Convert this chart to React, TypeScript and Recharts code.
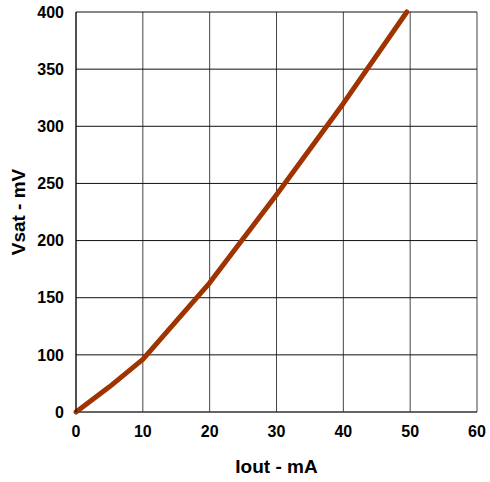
import React from 'react';
import { LineChart, Line, XAxis, YAxis, CartesianGrid, Label } from 'recharts';

// Iout (mA) and Vsat (mV)
const iout = [0, 5, 10, 20, 30, 40, 49.5];
const vsat = [0, 44, 92, 163, 240, 320, 400];

const xTicks = [0, 10, 20, 30, 40, 50, 60];
// the original axis has no 50 label: the bottom band (0-100) is drawn as tall as the 50 mV bands
const yTickLabels = ['0', '100', '150', '200', '250', '300', '350', '400'];
const yTickPos = [50, 100, 150, 200, 250, 300, 350, 400];

const toAxis = (v: number) => (v < 100 ? 50 + v / 2 : v);

const data = iout.map((x, i) => ({ iout: x, vsat: toAxis(vsat[i]) }));

const FONT = '"Liberation Sans", Arial, sans-serif';
const tickStyle = { fontSize: 16, fontWeight: 700, fill: '#000', fontFamily: FONT };

const XTitle = ({ viewBox }: any) => (
  <text
    x={viewBox.x + viewBox.width / 2}
    y={viewBox.y + 54}
    textAnchor="middle"
    dominantBaseline="central"
    style={{ fontSize: 19, fontWeight: 700, fontFamily: FONT }}
    fill="#000"
  >
    Iout - mA
  </text>
);

const YTitle = ({ viewBox }: any) => {
  const cx = 18;
  const cy = viewBox.y + viewBox.height / 2;
  return (
    <text
      x={cx}
      y={cy}
      transform={`rotate(-90, ${cx}, ${cy})`}
      textAnchor="middle"
      dominantBaseline="central"
      style={{ fontSize: 19, fontWeight: 700, fontFamily: FONT }}
      fill="#000"
    >
      Vsat - mV
    </text>
  );
};

export default function App() {
  return (
    <div style={{ position: 'absolute', left: 0, top: 0, background: '#fff' }}>
      <LineChart width={490} height={482} data={data} margin={{ top: 12, right: 13, left: 0, bottom: 0 }}>
        <CartesianGrid horizontal={false} stroke="#444" strokeWidth={1} />
        <CartesianGrid vertical={false} stroke="#111" strokeWidth={1} />
        <XAxis
          dataKey="iout"
          type="number"
          domain={[0, 60]}
          ticks={xTicks}
          interval={0}
          height={70}
          axisLine={{ stroke: '#444' }}
          tickLine={false}
          tickSize={0}
          tickMargin={14}
          tick={tickStyle}
        >
          <Label content={<XTitle />} />
        </XAxis>
        <YAxis
          type="number"
          domain={[50, 400]}
          ticks={yTickPos}
          interval={0}
          width={76}
          axisLine={{ stroke: '#000' }}
          tickLine={false}
          tickSize={0}
          tickMargin={12}
          tick={tickStyle}
          tickFormatter={(v: number) => yTickLabels[yTickPos.indexOf(v)]}
        >
          <Label content={<YTitle />} />
        </YAxis>
        <Line
          type="linear"
          dataKey="vsat"
          stroke="#A03400"
          strokeWidth={5}
          strokeLinecap="round"
          strokeLinejoin="round"
          dot={false}
          activeDot={false}
          isAnimationActive={false}
        />
      </LineChart>
    </div>
  );
}
